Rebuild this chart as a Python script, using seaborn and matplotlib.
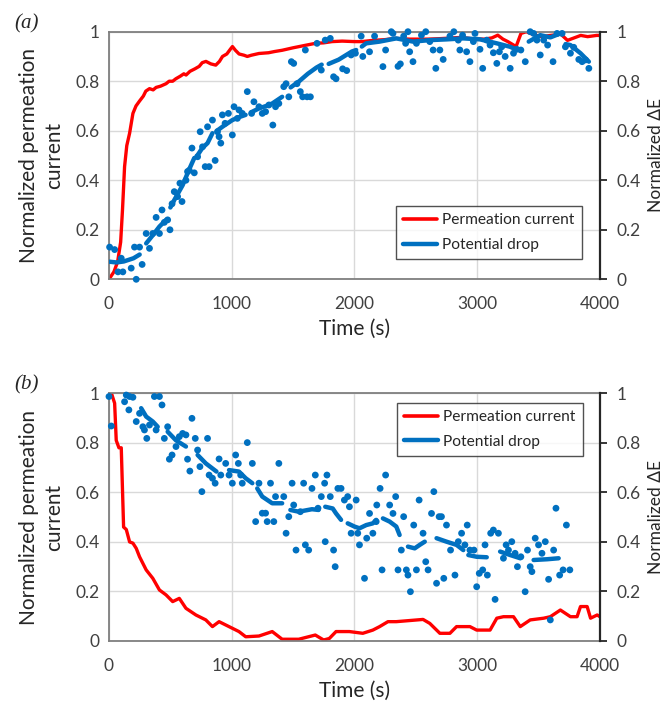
import numpy as np
import pandas as pd
import matplotlib
matplotlib.use("Agg")
import matplotlib.pyplot as plt
import seaborn as sns
from matplotlib.lines import Line2D
from matplotlib.ticker import FuncFormatter

sns.set_style("white")
plt.rcParams['font.family'] = ['Lato', 'DejaVu Sans']

RED = "#FF0000"
BLUE = "#0070C0"

# ---- panel (a): charging ----
a_curr_t = [0, 40, 70, 95, 110, 127, 145, 168, 195, 220, 249, 280, 300, 330, 360, 384, 420, 465, 490, 519,
            545, 580, 610, 628, 660, 700, 735, 760, 790, 830, 870, 900, 925, 960, 990, 1006, 1030, 1060, 1100, 1127,
            1160, 1222, 1300, 1350, 1411, 1500, 1600, 1682, 1750, 1817, 1900, 2000, 2060, 2150, 2250, 2330, 2450, 2600,
            2700, 2871, 2950, 3060, 3120, 3168, 3210, 3250, 3317, 3357, 3400, 3450, 3520, 3600, 3682, 3736, 3790, 3844,
            3900, 3974, 4000]
a_curr = [0, 0.03, 0.07, 0.15, 0.28, 0.455, 0.54, 0.59, 0.67, 0.70, 0.72, 0.74, 0.76, 0.77, 0.765, 0.775, 0.78, 0.79, 0.80, 0.80,
          0.81, 0.82, 0.83, 0.825, 0.84, 0.85, 0.86, 0.875, 0.88, 0.87, 0.865, 0.88, 0.90, 0.91, 0.93, 0.94, 0.925, 0.91, 0.905, 0.90,
          0.905, 0.912, 0.915, 0.92, 0.925, 0.935, 0.945, 0.953, 0.955, 0.96, 0.962, 0.96, 0.96, 0.965, 0.968, 0.973, 0.97, 0.97,
          0.972, 0.977, 0.972, 0.97, 0.975, 0.986, 0.97, 0.96, 0.94, 0.993, 1.0, 0.99, 0.98, 0.985, 0.99, 0.965, 0.975, 0.985,
          0.98, 0.985, 0.985]

a_dot_t = [5, 46, 73, 113, 100, 181, 208, 222, 249, 270, 303, 330, 357, 384, 411, 432, 451, 478, 497, 514,
           532, 559, 578, 595, 627, 640, 654, 676, 695, 722, 743, 762, 784, 803, 816, 843, 865, 884, 897, 911,
           924, 946, 973, 1005, 1019, 1046, 1059, 1086, 1127, 1162, 1181, 1222, 1249, 1276, 1303, 1335, 1357, 1384, 1424, 1443,
           1465, 1486, 1505, 1532, 1559, 1578, 1614, 1600, 1641, 1695, 1730, 1762, 1803, 1830, 1850, 1904, 1937, 1973, 2008, 2055,
           2068, 2123, 2164, 2232, 2254, 2300, 2314, 2355, 2374, 2401, 2417, 2436, 2450, 2477, 2505, 2546, 2581, 2614, 2641, 2663,
           2696, 2723, 2778, 2810, 2846, 2859, 2881, 2914, 2941, 2969, 2982, 3023, 3045, 3078, 3105, 3132, 3160, 3181, 3200, 3228,
           3269, 3296, 3323, 3356, 3392, 3432, 3460, 3487, 3514, 3542, 3574, 3618, 3651, 3692, 3719, 3760, 3787, 3828, 3855, 3883,
           3910]
a_dot = [0.13, 0.12, 0.03, 0.03, 0.085, 0.045, 0.13, 0.0, 0.13, 0.06, 0.185, 0.125, 0.185, 0.25, 0.185, 0.28, 0.23, 0.24, 0.20, 0.305,
         0.354, 0.334, 0.388, 0.314, 0.40, 0.435, 0.44, 0.53, 0.43, 0.495, 0.596, 0.535, 0.455, 0.616, 0.455, 0.643, 0.48, 0.596, 0.576, 0.55,
         0.664, 0.63, 0.67, 0.583, 0.697, 0.65, 0.684, 0.67, 0.758, 0.67, 0.717, 0.697, 0.67, 0.677, 0.704, 0.623, 0.697, 0.71, 0.778, 0.79,
         0.737, 0.879, 0.872, 0.79, 0.758, 0.737, 0.737, 0.926, 0.737, 0.953, 0.845, 0.966, 0.973, 0.818, 0.81, 0.85, 0.843, 0.906, 0.913, 0.982,
         0.90, 0.919, 0.982, 0.859, 0.926, 1.0, 0.993, 0.86, 0.87, 0.982, 0.953, 1.0, 0.919, 0.879, 0.953, 0.986, 1.0, 0.96, 0.926, 0.852,
         0.926, 0.888, 0.982, 1.0, 0.966, 0.926, 0.986, 0.919, 0.879, 0.96, 0.993, 0.929, 0.852, 0.966, 0.946, 0.915, 0.872, 0.919, 0.939, 0.90,
         0.852, 0.913, 0.929, 0.926, 0.879, 1.0, 0.993, 0.966, 0.906, 0.966, 0.946, 0.879, 0.993, 0.993, 0.939, 0.913, 0.937, 0.888, 0.879, 0.886,
         0.852]

# moving average, None = gap between drawn pieces
a_avg_t = [5, 60, 120, 200, 250, None, 303, 360, 411, 465, None, 500, 532, 600, 650, 695, None, 720, 760, 803, 843, None,
           880, 924, 1005, 1060, 1113, None, 1160, 1222, 1280, 1330, 1411, None, 1480, 1550, 1620, 1690, 1733, None,
           1790, 1871, 1930, 1979, 2014, None, 2060, 2095, 2205, 2341, 2477, 2614, 2750, 2887, 3023, 3160, 3269, 3310, None,
           3420, 3514, 3596, 3678, None, 3720, 3760, 3842, 3910]
a_avg = [0.071, 0.068, 0.072, 0.085, 0.10, None, 0.145, 0.18, 0.213, 0.24, None, 0.29, 0.32, 0.38, 0.44, 0.49, None, 0.50, 0.53, 0.55, 0.59, None,
         0.60, 0.616, 0.643, 0.655, 0.664, None, 0.675, 0.69, 0.70, 0.71, 0.737, None, 0.775, 0.80, 0.83, 0.855, 0.867, None,
         0.87, 0.887, 0.905, 0.92, 0.926, None, 0.94, 0.953, 0.96, 0.973, 0.96, 0.966, 0.969, 0.973, 0.969, 0.953, 0.939, 0.93, None,
         0.96, 0.986, 0.977, 0.993, None, 0.95, 0.946, 0.913, 0.879]

# ---- panel (b): discharging ----
b_curr_t = [0, 20, 46, 59, 81, 100, 119, 141, 168, 195, 222, 249, 303, 357, 411, 465, 519, 573, 627, 708,
            789, 843, 897, 978, 1059, 1114, 1222, 1330, 1411, 1546, 1681, 1749, 1795, 1850, 1959, 2068, 2150, 2205, 2273, 2341,
            2559, 2614, 2696, 2778, 2832, 2941, 2996, 3105, 3160, 3214, 3296, 3351, 3432, 3542, 3596, 3678, 3760, 3814, 3842, 3896,
            3924, 3978, 4000]
b_curr = [1.0, 1.0, 0.96, 0.81, 0.78, 0.78, 0.46, 0.45, 0.40, 0.395, 0.374, 0.34, 0.287, 0.253, 0.206, 0.186, 0.159, 0.172, 0.132, 0.105,
          0.085, 0.058, 0.078, 0.058, 0.038, 0.017, 0.02, 0.038, 0.007, 0.007, 0.024, 0.004, 0.01, 0.038, 0.038, 0.031, 0.044, 0.058, 0.078, 0.078,
          0.087, 0.071, 0.031, 0.031, 0.058, 0.058, 0.044, 0.044, 0.092, 0.098, 0.098, 0.058, 0.085, 0.092, 0.098, 0.125, 0.098, 0.098, 0.139, 0.139,
          0.092, 0.105, 0.098]

b_dot_t = [0, 19, 127, 141, 168, 195, 162, 222, 249, 276, 289, 308, 330, 370, 411, 384, 432, 451, 478, 492,
           514, 546, 573, 600, 627, 640, 659, 676, 703, 722, 741, 757, 803, 816, 843, 865, 897, 911, 951, 978,
           1005, 1032, 1054, 1073, 1086, 1127, 1168, 1195, 1222, 1249, 1276, 1289, 1316, 1343, 1357, 1384, 1424, 1443, 1465, 1492,
           1505, 1524, 1559, 1586, 1600, 1627, 1654, 1681, 1703, 1730, 1757, 1776, 1762, 1803, 1830, 1843, 1865, 1891, 1918, 1945,
           1959, 2014, 1973, 2027, 2041, 2082, 2100, 2123, 2150, 2177, 2182, 2209, 2225, 2254, 2287, 2314, 2336, 2355, 2382, 2401,
           2423, 2436, 2456, 2483, 2505, 2527, 2559, 2581, 2600, 2628, 2647, 2669, 2690, 2709, 2728, 2750, 2783, 2819, 2846, 2873,
           2900, 2919, 2941, 2974, 2996, 3017, 3045, 3064, 3083, 3110, 3132, 3146, 3173, 3214, 3236, 3255, 3282, 3309, 3328, 3356,
           3391, 3410, 3432, 3446, 3473, 3500, 3528, 3555, 3582, 3596, 3623, 3642, 3672, 3700, 3727, 3755]
b_dot = [0.987, 0.868, 0.966, 0.993, 0.987, 0.984, 0.933, 0.886, 0.919, 0.865, 0.852, 0.818, 0.872, 0.987, 0.987, 0.852, 0.953, 0.818, 0.865, 0.734,
         0.751, 0.785, 0.825, 0.838, 0.832, 0.734, 0.686, 0.899, 0.818, 0.771, 0.704, 0.603, 0.818, 0.67, 0.657, 0.637, 0.735, 0.67, 0.717, 0.67,
         0.637, 0.751, 0.717, 0.67, 0.637, 0.801, 0.717, 0.482, 0.637, 0.516, 0.516, 0.482, 0.637, 0.482, 0.583, 0.717, 0.583, 0.435, 0.502, 0.637,
         0.549, 0.367, 0.522, 0.637, 0.388, 0.367, 0.616, 0.67, 0.536, 0.583, 0.637, 0.67, 0.401, 0.583, 0.367, 0.30, 0.616, 0.616, 0.569, 0.583,
         0.542, 0.569, 0.435, 0.435, 0.388, 0.253, 0.415, 0.515, 0.435, 0.482, 0.549, 0.616, 0.287, 0.67, 0.549, 0.515, 0.583, 0.287, 0.367, 0.502,
         0.287, 0.266, 0.199, 0.468, 0.287, 0.569, 0.435, 0.32, 0.287, 0.515, 0.603, 0.233, 0.502, 0.502, 0.253, 0.468, 0.367, 0.266, 0.401, 0.435,
         0.388, 0.468, 0.367, 0.367, 0.219, 0.273, 0.287, 0.388, 0.266, 0.435, 0.448, 0.168, 0.435, 0.334, 0.388, 0.367, 0.401, 0.354, 0.30, 0.34,
         0.199, 0.367, 0.30, 0.28, 0.415, 0.388, 0.354, 0.401, 0.249, 0.085, 0.367, 0.536, 0.266, 0.287, 0.468, 0.287]

b_avg_t = [262, 303, 357, 397, None, 478, 546, 627, None, 722, 789, 876, None, 978, 1059, 1114, 1168, None,
           1208, 1249, 1330, 1411, None, 1478, 1546, 1654, 1708, None, 1762, 1823, 1850, 1891, None,
           1945, 2000, 2041, 2096, 2150, 2177, None, 2232, 2287, 2341, 2368, None, 2436, 2491, 2532, 2573, None,
           2669, 2750, 2832, 2887, None, 2928, 2996, 3078, None, 3187, 3269, 3351, None, 3460, 3569, 3664]
b_avg = [0.94, 0.906, 0.886, 0.865, None, 0.845, 0.81, 0.785, None, 0.751, 0.717, 0.684, None, 0.69, 0.684, 0.657, 0.637, None,
         0.616, 0.583, 0.556, 0.556, None, 0.529, 0.522, 0.532, 0.529, None, 0.542, 0.535, 0.515, 0.489, None,
         0.475, 0.462, 0.455, 0.468, 0.475, 0.489, None, 0.495, 0.482, 0.462, 0.428, None, 0.381, 0.374, 0.388, 0.401, None,
         0.415, 0.401, 0.388, 0.367, None, 0.347, 0.34, 0.338, None, 0.361, 0.347, 0.334, None, 0.327, 0.33, 0.334]


def avg_frame(ts, ys):
    rows, seg = [], 0
    for t, y in zip(ts, ys):
        if t is None:
            seg += 1
            continue
        rows.append((t, y, seg))
    return pd.DataFrame(rows, columns=["t", "y", "seg"])


def draw_panel(fig, rect, tag, tag_y, curr_t, curr, dot_t, dot, avg_t, avg, leg_loc, leg_anchor):
    ax = fig.add_axes(rect)
    ax2 = ax.twinx()

    sns.lineplot(x=curr_t, y=curr, ax=ax, color=RED, lw=2.4, estimator=None, sort=False)

    sns.scatterplot(x=dot_t, y=dot, ax=ax2, color=BLUE, s=24, edgecolor="none", clip_on=False, zorder=3)
    df = avg_frame(avg_t, avg)
    sns.lineplot(data=df, x="t", y="y", units="seg", estimator=None, ax=ax2,
                 color=BLUE, lw=3.2, solid_capstyle="round", sort=False)

    for a in (ax, ax2):
        a.set_xlim(0, 4000)
        a.set_ylim(0, 1)
        a.set_yticks([0, 0.2, 0.4, 0.6, 0.8, 1])
        a.yaxis.set_major_formatter(FuncFormatter(lambda v, p: "%g" % v))
        a.set_xlabel("")
        a.set_ylabel("")

    ax.set_xticks([0, 1000, 2000, 3000, 4000])
    ax.grid(True, color="#d9d9d9", lw=1)
    ax.set_axisbelow(True)
    ax.tick_params(axis="both", length=0, labelsize=12.5, colors="#404040")
    ax.tick_params(axis="y", pad=7)
    ax.tick_params(axis="x", pad=12)
    for s in ax.spines.values():
        s.set_color("#7f7f7f")
        s.set_linewidth(1.3)
    ax2.grid(False)
    for s in ["top", "left", "bottom"]:
        ax2.spines[s].set_visible(False)
    ax2.spines["right"].set_color("#262626")
    ax2.spines["right"].set_linewidth(1.6)
    ax2.tick_params(axis="y", right=True, direction="out", length=5, width=1.3,
                    color="#262626", labelsize=12.5, labelcolor="#404040", pad=7)

    ax.set_xlabel("Time (s)", fontsize=15, color="#262626", labelpad=5)
    ax.set_ylabel("Normalized permeation\ncurrent", fontsize=15, color="#262626", linespacing=1.3)
    ax.yaxis.set_label_coords(-0.092, 0.5)
    ax2.set_ylabel("Normalized ΔE", fontsize=12.5, color="#262626")
    ax2.yaxis.set_label_coords(1.097, 0.5)

    handles = [Line2D([], [], color=RED, lw=2.6),
               Line2D([], [], color=BLUE, lw=3.2, solid_capstyle="round")]
    leg = ax2.legend(handles, ["Permeation current", "Potential drop"], loc=leg_loc,
                     bbox_to_anchor=leg_anchor, borderaxespad=0, fontsize=11.2,
                     frameon=True, fancybox=False, handlelength=2.2, handletextpad=0.35,
                     labelspacing=0.7, borderpad=0.45)
    leg.get_frame().set_edgecolor("#262626")
    leg.get_frame().set_linewidth(1.0)
    for t in leg.get_texts():
        t.set_color("#262626")

    fig.text(0.040, tag_y, tag, family=["Liberation Serif", "DejaVu Serif"],
             style="italic", fontsize=15, color="#262626", va="center", ha="center")
    return ax, ax2


fig = plt.figure(figsize=(6.67, 7.06), dpi=100)
draw_panel(fig, [0.1634, 0.6044, 0.736, 0.3507], "(a)", 0.966, a_curr_t, a_curr, a_dot_t, a_dot,
           a_avg_t, a_avg, "lower right", (0.963, 0.082))
draw_panel(fig, [0.1634, 0.0921, 0.736, 0.3508], "(b)", 0.4547, b_curr_t, b_curr, b_dot_t, b_dot,
           b_avg_t, b_avg, "upper right", (0.965, 0.961))

fig.savefig("out.png", dpi=100)
